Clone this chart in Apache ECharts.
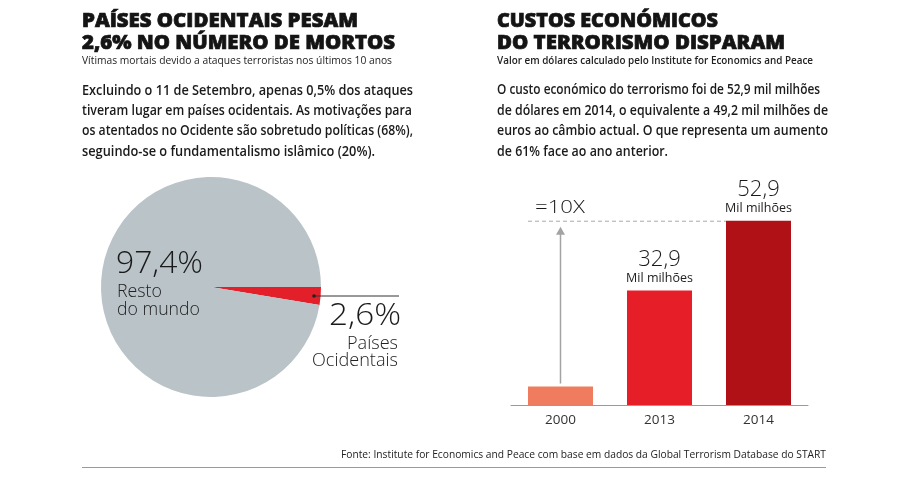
<!DOCTYPE html>
<html><head><meta charset="utf-8">
<script src="https://cdn.jsdelivr.net/npm/echarts@6/dist/echarts.min.js"></script>
<style>html,body{margin:0;padding:0;background:#fff}#c{width:900px;height:479px}</style>
</head><body><div id="c"></div>
<script>
// ---- data ----
const pieNames = ['Países Ocidentais', 'Resto do mundo'];
const pieValues = [2.6, 97.4];
const barCategories = ['2000', '2013', '2014'];
const barValues = [5.3, 32.9, 52.9];
const barUnit = 'Mil milhões';
const multiplierLabel = '=10X';

// ---- texts ----
const leftTitle = ['PAÍSES OCIDENTAIS PESAM', '2,6% NO NÚMERO DE MORTOS'];
const leftSub = 'Vítimas mortais devido a ataques terroristas nos últimos 10 anos';
const leftPara = [
  'Excluindo o 11 de Setembro, apenas 0,5% dos ataques',
  'tiveram lugar em países ocidentais. As motivações para',
  'os atentados no Ocidente são sobretudo políticas (68%),',
  'seguindo-se o fundamentalismo islâmico (20%).'
];
const rightTitle = ['CUSTOS ECONÓMICOS', 'DO TERRORISMO DISPARAM'];
const rightSub = 'Valor em dólares calculado pelo Institute for Economics and Peace';
const rightPara = [
  'O custo económico do terrorismo foi de 52,9 mil milhões',
  'de dólares em 2014, o equivalente a 49,2 mil milhões de',
  'euros ao câmbio actual. O que representa um aumento',
  'de 61% face ao ano anterior.'
];
const sourceText = 'Fonte: Institute for Economics and Peace com base em dados da Global Terrorism Database do START';

const fmt = v => v.toFixed(1).replace('.', ',');
const FAM = 'Open Sans';
const mctx = document.createElement('canvas').getContext('2d');
function fit(text, x, y, width, size, weight, color, align, strokeW) {
  mctx.font = weight + ' ' + size + 'px "' + FAM + '"';
  const w = mctx.measureText(text).width || 1;
  const style = { text: text, x: 0, y: 0, fontSize: size, fontWeight: weight, fontFamily: FAM,
    fill: color, align: align || 'left', verticalAlign: 'middle' };
  if (strokeW) { style.stroke = color; style.lineWidth = strokeW; }
  return { type: 'text', x: x, y: y, z: 20, scaleX: width / w, originX: 0, originY: 0,
    silent: true, style: style };
}

const chart = echarts.init(document.getElementById('c'));
const barColors = ['#f07c60', '#e61e28', '#b01117'];

chart.setOption({
  animation: false,
  backgroundColor: '#fff',
  grid: { left: 511, right: 92, top: 196, bottom: 74 },
  xAxis: {
    type: 'category', data: barCategories,
    axisLine: { lineStyle: { color: '#9a9a9a', width: 1 } },
    axisTick: { show: false },
    axisLabel: { fontSize: 13.5, color: '#333', margin: 8, fontFamily: FAM }
  },
  yAxis: { type: 'value', min: 0, max: 60, show: false },
  series: [
    {
      type: 'pie', center: [211, 287], radius: 110, startAngle: 0, clockwise: true,
      silent: true, label: { show: false }, labelLine: { show: false },
      emphasis: { disabled: true },
      data: pieNames.map((n, i) => ({ name: n, value: pieValues[i],
        itemStyle: { color: i === 0 ? '#e3202a' : '#b9c3c8' } }))
    },
    {
      type: 'bar', barWidth: 65, silent: true,
      data: barValues.map((v, i) => ({
        value: v, itemStyle: { color: barColors[i] },
        label: { show: i > 0 }
      })),
      label: {
        position: 'top', distance: 4,
        formatter: p => '{a|' + fmt(p.value) + '}\n{b|' + barUnit + '}',
        rich: {
          a: { fontSize: 22, lineHeight: 22, fontFamily: FAM, fontWeight: 300, color: '#1a1a1a' },
          b: { fontSize: 12.5, lineHeight: 16, fontFamily: FAM, color: '#222' }
        }
      }
    }
  ]
});

// ---- annotations computed through the chart's scales ----
const p0 = chart.convertToPixel({ seriesIndex: 1 }, [0, barValues[0]]);
const pTop = chart.convertToPixel({ seriesIndex: 1 }, [2, barValues[2]]);
const halfW = 32.5;
const dashY = pTop[1];
const ax = p0[0];

const split = n => { const k = n.indexOf(' '); return [n.slice(0, k), n.slice(k + 1)]; };
const restLines = split(pieNames[1]);
const westLines = split(pieNames[0]);

const g = [
  fit(leftTitle[0], 82, 22, 276, 19, 800, '#141414', 'left', 0.7),
  fit(leftTitle[1], 82, 43.5, 313, 19, 800, '#141414', 'left', 0.7),
  fit(leftSub, 82, 60.5, 310, 11.5, 400, '#222'),
  fit(rightTitle[0], 497, 22, 221, 19, 800, '#141414', 'left', 0.7),
  fit(rightTitle[1], 497, 43.5, 288, 19, 800, '#141414', 'left', 0.7),
  fit(rightSub, 497, 60.5, 316, 11.5, 600, '#222'),
  fit(leftPara[0], 82, 91, 331, 14.5, 600, '#1a1a1a'),
  fit(leftPara[1], 82, 111, 330, 14.5, 600, '#1a1a1a'),
  fit(leftPara[2], 82, 131, 331, 14.5, 600, '#1a1a1a'),
  fit(leftPara[3], 82, 152, 293, 14.5, 600, '#1a1a1a'),
  fit(rightPara[0], 497, 90, 323, 14.5, 600, '#1a1a1a'),
  fit(rightPara[1], 497, 111, 331, 14.5, 600, '#1a1a1a'),
  fit(rightPara[2], 497, 131, 331, 14.5, 600, '#1a1a1a'),
  fit(rightPara[3], 497, 152, 171, 14.5, 600, '#1a1a1a'),
  // pie labels
  fit(fmt(pieValues[1]) + '%', 116, 264, 87, 31, 300, '#1a1a1a'),
  fit(restLines[0], 117, 292, 45, 17.5, 300, '#222'),
  fit(restLines[1], 117, 310, 83, 17.5, 300, '#222'),
  fit(fmt(pieValues[0]) + '%', 401, 316, 72, 31, 300, '#1a1a1a', 'right'),
  fit(westLines[0], 398, 344, 51, 17.5, 300, '#222', 'right'),
  fit(westLines[1], 398, 361, 86, 17.5, 300, '#222', 'right'),
  { type: 'line', silent: true, z: 20, shape: { x1: 314, y1: 296, x2: 399, y2: 296 },
    style: { stroke: '#333', lineWidth: 1 } },
  { type: 'circle', silent: true, z: 21, shape: { cx: 314, cy: 296, r: 1.8 }, style: { fill: '#222' } },
  // bar annotations
  { type: 'line', silent: true, z: 20,
    shape: { x1: ax - halfW, y1: dashY + 0.5, x2: pTop[0] - halfW, y2: dashY + 0.5 },
    style: { stroke: '#aaa', lineWidth: 1, lineDash: [4, 3] } },
  { type: 'line', silent: true, z: 20,
    shape: { x1: ax, y1: p0[1] - 3, x2: ax, y2: dashY + 12 },
    style: { stroke: '#a3a3a3', lineWidth: 1.5 } },
  { type: 'polygon', silent: true, z: 20,
    shape: { points: [[ax - 4.5, dashY + 14], [ax + 4.5, dashY + 14], [ax, dashY + 6]] },
    style: { fill: '#a3a3a3' } },
  fit(multiplierLabel, ax - halfW + 7, dashY - 13, 50, 19, 300, '#1a1a1a'),
  // footer
  fit(sourceText, 826, 455, 485, 11, 400, '#222', 'right'),
  { type: 'line', silent: true, z: 20, shape: { x1: 82, y1: 467.5, x2: 826, y2: 467.5 },
    style: { stroke: '#9a9a9a', lineWidth: 1 } }
];
chart.setOption({ graphic: g });
</script>
</body></html>
